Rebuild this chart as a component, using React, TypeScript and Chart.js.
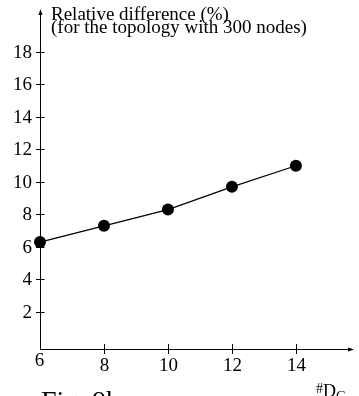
import React, { useEffect, useRef } from "react";
import { Chart, registerables } from "chart.js";

Chart.register(...registerables);

const xValues = [6, 8, 10, 12, 14];
const relDiff = [6.3, 7.3, 8.3, 9.7, 11.0];
const xTicks = [6, 8, 10, 12, 14];
const yTicks = [2, 4, 6, 8, 10, 12, 14, 16, 18];
const yTitle = ["Relative difference (%)", "(for the topology with 300 nodes)"];
const xTitleHash = "#";
const xTitleMain = "D";
const xTitleSub = "G";
const figCaption = "Fig. 9b";

const FONT = "'Liberation Serif', 'Times New Roman', serif";

const axesPlugin = {
  id: "sketchAxes",
  afterDraw(chart: any) {
    const ctx = chart.ctx as CanvasRenderingContext2D;
    const xs = chart.scales.x;
    const ys = chart.scales.y;
    const x0 = xs.getPixelForValue(xs.min);
    const x1 = xs.getPixelForValue(xs.max);
    const y0 = ys.getPixelForValue(ys.min);
    const y1 = ys.getPixelForValue(ys.max);
    ctx.save();
    ctx.strokeStyle = "#000";
    ctx.fillStyle = "#000";
    ctx.lineWidth = 1;
    // y axis
    ctx.beginPath();
    ctx.moveTo(x0 + 0.5, y0);
    ctx.lineTo(x0 + 0.5, y1 + 2);
    ctx.stroke();
    ctx.beginPath();
    ctx.moveTo(x0 + 0.5, y1 - 1);
    ctx.lineTo(x0 - 1.5, y1 + 5);
    ctx.lineTo(x0 + 2.5, y1 + 5);
    ctx.closePath();
    ctx.fill();
    // x axis
    ctx.beginPath();
    ctx.moveTo(x0, y0 + 0.5);
    ctx.lineTo(x1 - 2, y0 + 0.5);
    ctx.stroke();
    ctx.beginPath();
    ctx.moveTo(x1 + 1, y0 + 0.5);
    ctx.lineTo(x1 - 5, y0 - 1.5);
    ctx.lineTo(x1 - 5, y0 + 2.5);
    ctx.closePath();
    ctx.fill();

    ctx.font = `19px ${FONT}`;
    // y ticks
    ctx.textAlign = "right";
    ctx.textBaseline = "middle";
    for (const v of yTicks) {
      const py = Math.round(ys.getPixelForValue(v)) + 0.5;
      ctx.beginPath();
      ctx.moveTo(x0 - 4, py);
      ctx.lineTo(x0 + 4.5, py);
      ctx.stroke();
      ctx.fillText(String(v), x0 - 8, py + 1);
    }
    // x ticks
    ctx.textAlign = "center";
    ctx.textBaseline = "middle";
    for (const v of xTicks) {
      const px = Math.round(xs.getPixelForValue(v)) + 0.5;
      if (v > xs.min) {
        ctx.beginPath();
        ctx.moveTo(px, y0 - 5);
        ctx.lineTo(px, y0 + 5);
        ctx.stroke();
        ctx.fillText(String(v), px, y0 + 17);
      } else {
        ctx.fillText(String(v), px - 1, y0 + 12);
      }
    }
    // y title
    ctx.textAlign = "left";
    ctx.textBaseline = "alphabetic";
    ctx.font = `19px ${FONT}`;
    ctx.fillText(yTitle[0], x0 + 11, y1 + 10);
    ctx.fillText(yTitle[1], x0 + 11, y1 + 23);
    // x title
    const tx = xs.getPixelForValue(14) + 20;
    ctx.font = `14px ${FONT}`;
    ctx.fillText(xTitleHash, tx, y0 + 44);
    let w = ctx.measureText(xTitleHash).width;
    ctx.font = `18px ${FONT}`;
    ctx.fillText(xTitleMain, tx + w, y0 + 48);
    w += ctx.measureText(xTitleMain).width;
    ctx.font = `14px ${FONT}`;
    ctx.fillText(xTitleSub, tx + w, y0 + 52);
    // caption
    ctx.font = `28px ${FONT}`;
    ctx.fillText(figCaption, x0 + 1, y0 + 61);
    ctx.restore();
  },
};

export default function App() {
  const ref = useRef<HTMLCanvasElement | null>(null);
  useEffect(() => {
    document.body.style.margin = "0";
    const canvas = ref.current;
    if (!canvas) return;
    const chart = new Chart(canvas, {
      type: "line",
      data: {
        datasets: [
          {
            data: xValues.map((x, i) => ({ x, y: relDiff[i] })),
            borderColor: "#000",
            backgroundColor: "#000",
            borderWidth: 1.2,
            pointRadius: 6,
            pointBackgroundColor: "#000",
            pointBorderColor: "#000",
            pointBorderWidth: 0,
            tension: 0,
            clip: false as any,
          },
        ],
      },
      options: {
        responsive: false,
        animation: false,
        layout: { padding: { left: 40, top: 10, right: 1, bottom: 47 } },
        plugins: { legend: { display: false }, tooltip: { enabled: false } },
        scales: {
          x: { type: "linear", display: false, min: 6, max: 15.785 },
          y: { type: "linear", display: false, min: -0.277, max: 20.58 },
        },
      },
      plugins: [axesPlugin],
    });
    return () => chart.destroy();
  }, []);
  return (
    <div style={{ width: 359, height: 396, background: "#fff" }}>
      <canvas ref={ref} width={359} height={396} style={{ display: "block" }} />
    </div>
  );
}
